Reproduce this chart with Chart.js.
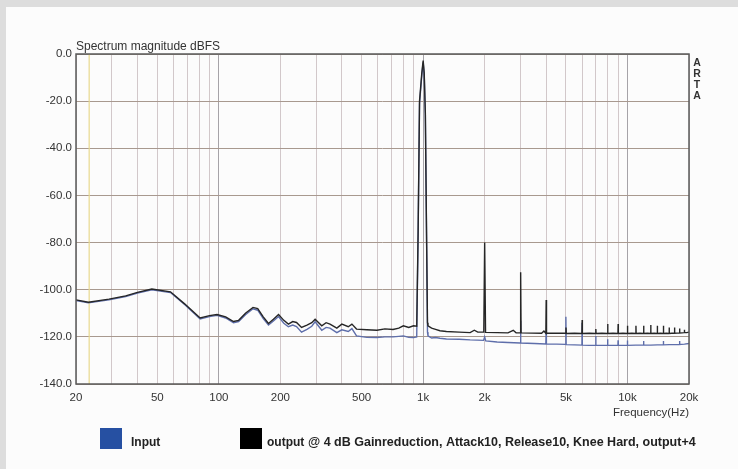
<!DOCTYPE html>
<html>
<head>
<meta charset="utf-8">
<title>Spectrum magnitude</title>
<script src="https://cdn.jsdelivr.net/npm/chart.js@4.4.1/dist/chart.umd.min.js"></script>
<style>
  html, body { margin: 0; padding: 0; }
  body { width: 738px; height: 469px; background: #dddddd; overflow: hidden; }
  #panel { position: absolute; left: 6px; top: 7px; width: 732px; height: 462px; background: #fcfcfc; }
</style>
</head>
<body>
<div id="panel"><canvas id="spectrum" width="732" height="462"></canvas></div>
<script>
'use strict';

// [frequency Hz, level dBFS]
const outputPoints = [
  [20, -104.3], [23, -105.3], [29, -104.0], [35, -102.6], [40, -101.1], [47, -99.7], [58, -100.9],
  [68, -106.0], [81, -112.0], [90, -111.0], [98, -110.5], [108, -111.5], [118, -113.5], [125, -113.0],
  [135, -110.0], [147, -107.5], [155, -108.0], [165, -111.5], [175, -114.3], [185, -112.5], [196, -110.5],
  [208, -113.0], [219, -114.6], [230, -113.5], [240, -113.9], [254, -116.0], [270, -115.0], [285, -114.0],
  [296, -112.5], [319, -115.3], [335, -114.0], [350, -114.6], [378, -116.3], [400, -114.6], [430, -115.7],
  [448, -114.6], [472, -116.7], [530, -117.0], [594, -117.2], [650, -116.6], [712, -116.9], [760, -116.3],
  [800, -115.3], [850, -116.0], [897, -115.3], [930, -115.5], [945, -75], [960, -20], [985, -8],
  [1000, -2.8], [1012, -8], [1025, -25], [1040, -80], [1050, -114], [1056, -115.3], [1100, -116.3],
  [1150, -116.8], [1208, -117.4], [1300, -117.7], [1500, -118.0], [1698, -118.2], [1780, -117.2],
  [1850, -118.0], [1980, -118.0], [2000, -80], [2020, -118.1], [2300, -118.2],
  [2600, -118.3], [2760, -117.2], [2850, -118.3], [2985, -118.3], [3000, -92.6], [3015, -118.3],
  [3400, -118.4], [3800, -118.5], [3900, -117.5], [3985, -118.5], [4000, -104.4], [4015, -118.5],
  [4500, -118.5], [4985, -118.5], [5000, -116.0], [5015, -118.6], [5500, -118.5], [5985, -118.6],
  [6000, -112.9], [6015, -118.6], [6500, -118.5], [6985, -118.6], [7000, -116.7], [7015, -118.6],
  [7500, -118.5], [7980, -118.6], [8000, -114.5], [8020, -118.6], [8500, -118.5], [8980, -118.6],
  [9000, -114.5], [9020, -118.6], [9500, -118.5], [9980, -118.6], [10000, -115.3], [10020, -118.6],
  [10500, -118.5], [10980, -118.6], [11000, -115.3], [11020, -118.6], [11500, -118.5], [11980, -118.6],
  [12000, -115.3], [12020, -118.6], [12500, -118.5], [12980, -118.6], [13000, -115.0], [13020, -118.6],
  [13500, -118.5], [13980, -118.6], [14000, -115.3], [14020, -118.6], [14500, -118.5], [14980, -118.6],
  [15000, -115.3], [15020, -118.6], [15500, -118.5], [15980, -118.6], [16000, -116.0], [16020, -118.6],
  [16500, -118.5], [16980, -118.5], [17000, -116.0], [17020, -118.5], [17500, -118.4], [17980, -118.4],
  [18000, -116.5], [18020, -118.4], [18500, -118.3], [18980, -118.2], [19000, -117.0], [19020, -118.2],
  [19500, -118.2], [20000, -118.0]
];

const inputPoints = [
  [20, -104.6], [23, -105.6], [29, -104.3], [35, -102.9], [40, -101.4], [47, -100.0], [58, -101.2],
  [68, -106.3], [81, -112.4], [90, -111.4], [98, -110.9], [108, -112.0], [118, -114.0], [125, -113.5],
  [135, -110.6], [147, -108.1], [155, -108.7], [165, -112.2], [175, -115.0], [185, -113.3], [196, -111.4],
  [208, -114.2], [219, -115.7], [230, -115.0], [240, -115.6], [254, -118.0], [270, -116.8], [285, -115.5],
  [296, -113.6], [319, -117.2], [335, -116.0], [350, -116.3], [378, -118.2], [400, -117.0], [430, -117.7],
  [448, -116.5], [472, -119.6], [530, -120.2], [594, -120.3], [650, -120.0], [712, -120.0], [760, -119.8],
  [800, -119.6], [850, -120.2], [897, -120.3], [930, -120.0], [945, -76], [960, -21], [985, -9],
  [1000, -3.5], [1012, -9], [1025, -26], [1040, -81], [1050, -118], [1056, -119.6], [1100, -120.5],
  [1150, -120.3], [1208, -120.6], [1300, -120.9], [1500, -121.0], [1698, -121.3], [1975, -121.5],
  [2000, -120.0], [2025, -121.7], [2300, -122.2], [2600, -122.4], [2985, -122.6], [2995, -113.2],
  [3010, -122.6], [3500, -122.8], [3985, -123.0], [3995, -118.0], [4010, -123.0], [4500, -123.1],
  [4985, -123.2], [4995, -111.5], [5010, -123.3], [5500, -123.4], [5985, -123.5], [5995, -114.0],
  [6010, -123.5], [6500, -123.6], [6985, -123.6], [6995, -119.6], [7010, -123.6], [7500, -123.6],
  [7980, -123.6], [7995, -121.0], [8010, -123.6], [8500, -123.6], [8980, -123.6], [8995, -121.5],
  [9010, -123.6], [9500, -123.6], [9980, -123.6], [9995, -121.5], [10010, -123.6], [11000, -123.5],
  [11980, -123.5], [11995, -121.8], [12010, -123.5], [13000, -123.5], [14000, -123.4], [14980, -123.4],
  [14995, -121.8], [15010, -123.4], [16000, -123.3], [17980, -123.2], [17995, -121.8], [18010, -123.2],
  [19000, -123.1], [20000, -122.8]
];

// cursor marker (yellow line)
const cursorFreq = 23.2;

const xTickValues = [20, 50, 100, 200, 500, 1000, 2000, 5000, 10000, 20000];
const xTickLabels = ['20', '50', '100', '200', '500', '1k', '2k', '5k', '10k', '20k'];
const xGridValues = [20, 30, 40, 50, 60, 70, 80, 90, 100, 200, 300, 400, 500, 600, 700, 800, 900,
  1000, 2000, 3000, 4000, 5000, 6000, 7000, 8000, 9000, 10000, 20000];
const yMin = -140, yMax = 0, yStep = 20;

const titleText = 'Spectrum magnitude dBFS';
const sideText = ['A', 'R', 'T', 'A'];
const legendNote = '@ 4 dB Gainreduction, Attack10, Release10, Knee Hard, output+4';

const FONT = '"Liberation Sans", Arial, sans-serif';
const toXY = pts => pts.map(p => ({ x: p[0], y: p[1] }));

// frame, title, side label and legend
const decorations = {
  id: 'decorations',
  afterDraw(chart) {
    const { ctx, chartArea: a } = chart;
    ctx.save();
    ctx.strokeStyle = '#5a5a5a';
    ctx.lineWidth = 1.5;
    ctx.strokeRect(a.left, a.top, a.right - a.left, a.bottom - a.top);

    ctx.fillStyle = '#333';
    ctx.textBaseline = 'alphabetic';
    ctx.font = '12px ' + FONT;
    ctx.textAlign = 'left';
    ctx.fillText(titleText, a.left, a.top - 4);

    ctx.font = 'bold 10.5px ' + FONT;
    ctx.textAlign = 'center';
    sideText.forEach((ch, i) => ctx.fillText(ch, a.right + 8, a.top + 12 + i * 11));

    // legend: input, then output with the note
    const ds = chart.data.datasets;
    const items = [
      { d: ds[1], box: 94, text: 125 },
      { d: ds[0], box: 234, text: 261 }
    ];
    ctx.font = 'bold 12px ' + FONT;
    ctx.textAlign = 'left';
    items.forEach(it => {
      ctx.fillStyle = it.d.backgroundColor;
      ctx.fillRect(it.box, 421, 22, 21);
      ctx.fillStyle = '#222';
      ctx.fillText(it.d.label, it.text, 439);
    });
    ctx.font = 'bold 12.5px ' + FONT;
    ctx.fillText(legendNote, 302, 439);
    ctx.restore();
  }
};

new Chart(document.getElementById('spectrum'), {
  type: 'scatter',
  data: {
    datasets: [
      {
        label: 'output',
        data: toXY(outputPoints),
        showLine: true,
        borderColor: '#262626',
        backgroundColor: '#000000',
        borderWidth: 1.4,
        pointRadius: 0,
        tension: 0
      },
      {
        label: 'Input',
        data: toXY(inputPoints),
        showLine: true,
        borderColor: '#5e6eaa',
        backgroundColor: '#2650a2',
        borderWidth: 1.4,
        pointRadius: 0,
        tension: 0
      },
      {
        label: 'cursor',
        data: [{ x: cursorFreq, y: yMax }, { x: cursorFreq, y: yMin }],
        showLine: true,
        borderColor: '#e8d88e',
        backgroundColor: '#e8d88e',
        borderWidth: 1.2,
        pointRadius: 0
      }
    ]
  },
  options: {
    responsive: false,
    animation: false,
    layout: { padding: { left: 0, right: 49, top: 47, bottom: 49 } },
    plugins: {
      legend: { display: false },
      tooltip: { enabled: false }
    },
    scales: {
      x: {
        type: 'logarithmic',
        min: 20,
        max: 20000,
        afterBuildTicks: scale => { scale.ticks = xGridValues.map(v => ({ value: v })); },
        afterFit: scale => { scale.height = 36; },
        border: { display: false },
        grid: {
          drawTicks: false,
          lineWidth: 1,
          color: c => ([100, 1000, 10000].includes(c.tick && c.tick.value) ? '#a6a3a8' : '#d2c8ca')
        },
        ticks: {
          autoSkip: false,
          maxRotation: 0,
          padding: 7,
          color: '#333',
          font: { family: FONT, size: 11.5 },
          callback: v => {
            const i = xTickValues.indexOf(v);
            return i >= 0 ? xTickLabels[i] : '';
          }
        },
        title: {
          display: true,
          text: 'Frequency(Hz)',
          align: 'end',
          color: '#333',
          font: { family: FONT, size: 11.5 },
          padding: { top: 0, bottom: 0 }
        }
      },
      y: {
        min: yMin,
        max: yMax,
        afterFit: scale => { scale.width = 70; },
        border: { display: false },
        grid: { drawTicks: false, color: '#a8998f', lineWidth: 1 },
        ticks: {
          stepSize: yStep,
          padding: 4,
          color: '#333',
          font: { family: FONT, size: 11.5 },
          callback: v => Number(v).toFixed(1)
        }
      }
    }
  },
  plugins: [decorations]
});
</script>
</body>
</html>
